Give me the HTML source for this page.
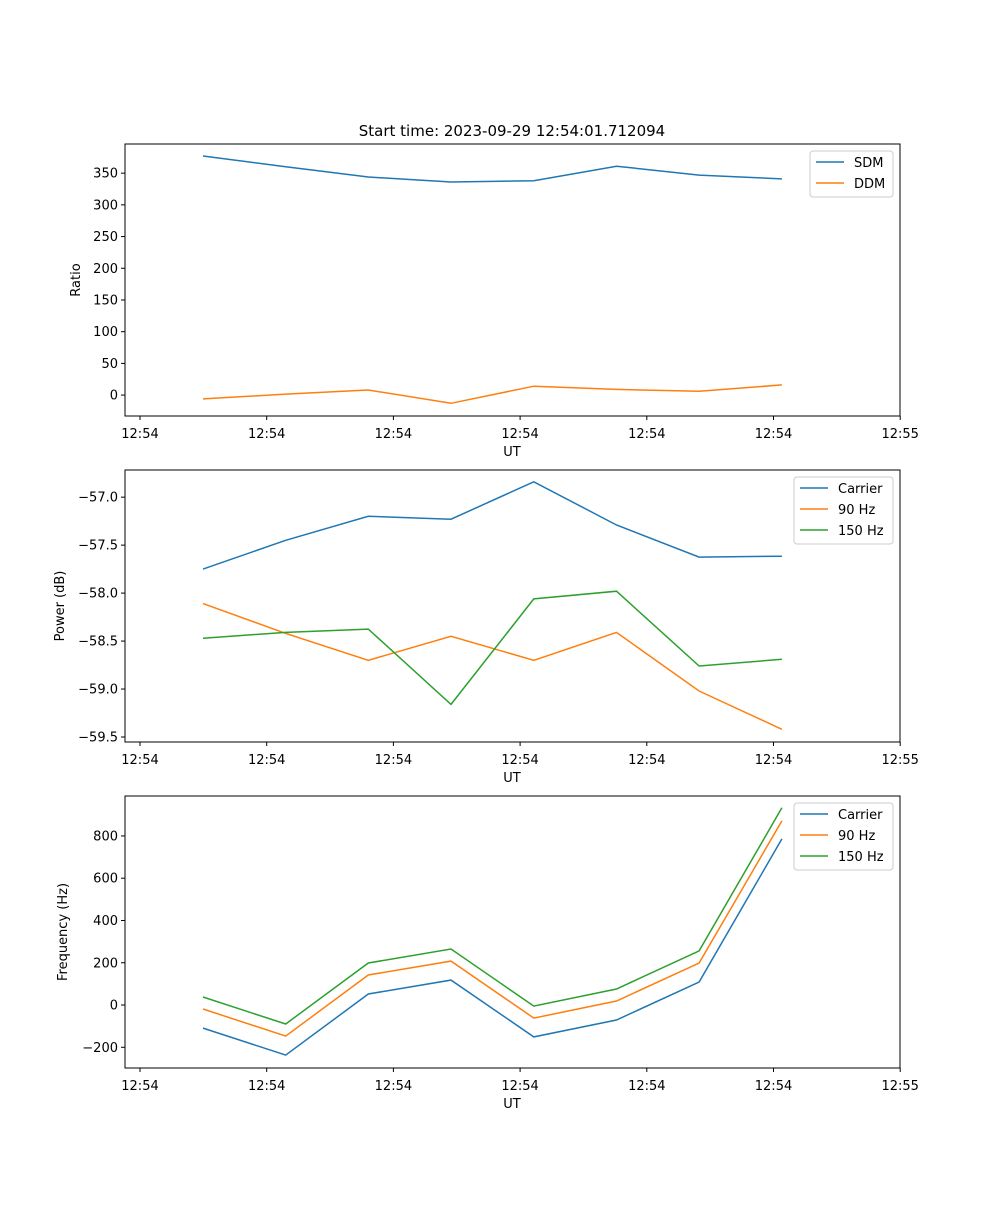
<!DOCTYPE html>
<html><head><meta charset="utf-8"><style>
html,body{margin:0;padding:0;background:#fff;}
svg text{font-family:"DejaVu Sans","Liberation Sans",sans-serif;font-size:13px;fill:#000;}
</style></head><body>
<svg id="fig" width="1000" height="1200" viewBox="0 0 1000 1200" xmlns="http://www.w3.org/2000/svg">
<rect width="1000" height="1200" fill="#fff"/>
<text x="512" y="136" text-anchor="middle" style="font-size:15px">Start time: 2023-09-29 12:54:01.712094</text>
</svg>
<script>
// shared x data (seconds)
const times = [1.697,2.350,3.002,3.655,4.308,4.961,5.613,6.266];
const xTicks = [1.2,2.2,3.2,4.2,5.2,6.2,7.2];
const xTickLabels = ["12:54","12:54","12:54","12:54","12:54","12:54","12:55"];
// panel 1
const sdm = [377,360,344,336,338,361,347,341];
const ddm = [-6,1.6,8,-13,14,9,6,16];
const p1Ticks = [0,50,100,150,200,250,300,350];
// panel 2
const pwrCarrier = [-57.75,-57.45,-57.2,-57.23,-56.84,-57.29,-57.625,-57.615];
const pwr90 = [-58.11,-58.42,-58.70,-58.45,-58.70,-58.41,-59.02,-59.42];
const pwr150 = [-58.47,-58.41,-58.375,-59.16,-58.06,-57.98,-58.76,-58.69];
const p2Ticks = [-59.5,-59.0,-58.5,-58.0,-57.5,-57.0];
// panel 3
const frqCarrier = [-109,-237,52,118,-151,-71,109,786];
const frq90 = [-19,-147,142,208,-62,19,199,871];
const frq150 = [38,-90,199,265,-5,76,256,933];
const p3Ticks = [-200,0,200,400,600,800];

const NS="http://www.w3.org/2000/svg";
const svg=document.getElementById('fig');
function mk(tag,attrs,parent){const e=document.createElementNS(NS,tag);for(const k in attrs)e.setAttribute(k,attrs[k]);(parent||svg).appendChild(e);return e;}
const L=125,R=900;
function xs(t){return 140+(t-1.2)*126.7;}
function panel(top,bot,ymin,ymax,yTicks,fmt,ylabel,series,legend,name){
  const g=mk('g',{});
  
  
  const ys=v=>bot-(v-ymin)/(ymax-ymin)*(bot-top);
  series.forEach(s=>{
    const p=mk('polyline',{points:s.v.map((v,i)=>xs(times[i]).toFixed(1)+','+ys(v).toFixed(1)).join(' '),fill:'none',stroke:s.c,'stroke-width':1.5},g);
    
    
  });
  const fr=mk('rect',{x:L,y:top,width:R-L,height:bot-top,fill:'none',stroke:'#000','stroke-width':1},g);
  
  
  xTicks.forEach((t,i)=>{
    const x=xs(t);
    mk('line',{x1:x,y1:bot,x2:x,y2:bot+4,stroke:'#000'},g);
    const tx=mk('text',{x:x,y:bot+22,'text-anchor':'middle'},g);tx.textContent=xTickLabels[i];
    
    
  });
  const xl=mk('text',{x:512,y:bot+40,'text-anchor':'middle'},g);xl.textContent='UT';
  
  
  yTicks.forEach(v=>{
    const y=ys(v);
    mk('line',{x1:L-4,y1:y,x2:L,y2:y,stroke:'#000'},g);
    const tx=mk('text',{x:L-7,y:y+4.5,'text-anchor':'end'},g);tx.textContent=fmt(v);
    
    
  });
  const yl=mk('text',{transform:`translate(${ylabel.x},${(top+bot)/2}) rotate(-90)`,'text-anchor':'middle'},g);yl.textContent=ylabel.t;
  
  
  const lg=mk('g',{},g);
  
  
  mk('rect',{x:legend.x,y:top+7,width:R-7-legend.x,height:series.length*21+4,rx:3,fill:'#fff',stroke:'#ccc'},lg);
  series.forEach((s,i)=>{
    const y=top+18+i*21;
    mk('line',{x1:legend.x+6,y1:y,x2:legend.x+34,y2:y,stroke:s.c,'stroke-width':1.5},lg);
    const tx=mk('text',{x:legend.x+44,y:y+5},lg);tx.textContent=s.lbl;
    
    
  });
}
const B='#1f77b4',O='#ff7f0e',G='#2ca02c';
panel(144,416,-33,396,p1Ticks,v=>String(v),{x:80,t:'Ratio'},
  [{v:sdm,c:B,lbl:'SDM',n:'sdm'},{v:ddm,c:O,lbl:'DDM',n:'ddm'}],{x:810},'ratio-panel');
panel(470,742,-59.552,-56.717,p2Ticks,v=>(v<0?'\u2212':'')+Math.abs(v).toFixed(1),{x:64,t:'Power (dB)'},
  [{v:pwrCarrier,c:B,lbl:'Carrier',n:'carrier-power'},{v:pwr90,c:O,lbl:'90 Hz',n:'90hz-power'},{v:pwr150,c:G,lbl:'150 Hz',n:'150hz-power'}],{x:794},'power-panel');
panel(796,1068,-298,989,p3Ticks,v=>(v<0?'\u2212':'')+Math.abs(v),{x:67,t:'Frequency (Hz)'},
  [{v:frqCarrier,c:B,lbl:'Carrier',n:'carrier-frequency'},{v:frq90,c:O,lbl:'90 Hz',n:'90hz-frequency'},{v:frq150,c:G,lbl:'150 Hz',n:'150hz-frequency'}],{x:794},'frequency-panel');
</script>
</body></html>
